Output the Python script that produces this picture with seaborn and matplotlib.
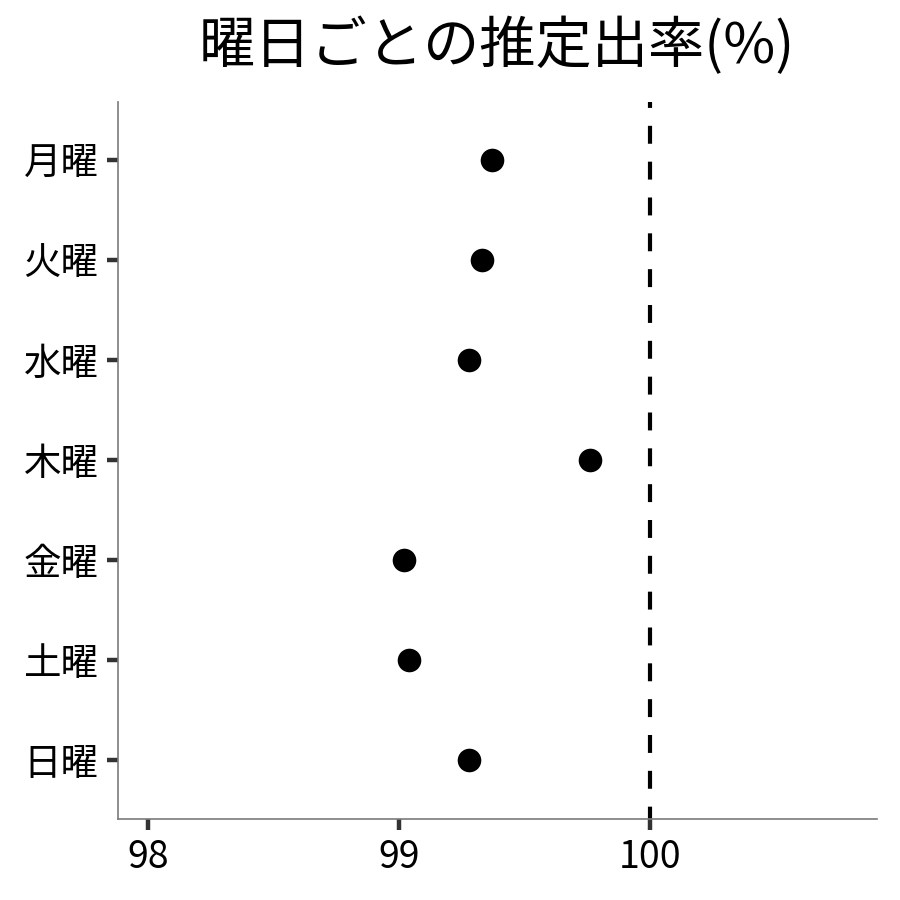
import matplotlib
matplotlib.use("Agg")
import matplotlib.pyplot as plt
import seaborn as sns
import pandas as pd
from matplotlib.lines import Line2D

# data
days = ["月曜", "火曜", "水曜", "木曜", "金曜", "土曜", "日曜"]
rates = [99.37, 99.33, 99.28, 99.76, 99.02, 99.04, 99.28]
x_ticks = [98, 99, 100]
ref_line = 100

df = pd.DataFrame({"day": days, "rate": rates})

sns.set_style("white")
plt.rcParams["font.family"] = ["Noto Sans CJK JP", "DejaVu Sans"]

fig = plt.figure(figsize=(9, 9), dpi=100)
ax = fig.add_axes([0.131, 0.09, 0.843, 0.797])

sns.stripplot(data=df, x="rate", y="day", order=days, jitter=False,
              color="black", size=17, linewidth=0, ax=ax)

# dashed reference line, drawn from the top down
ax.add_line(Line2D([ref_line, ref_line], [1.017, 0], transform=ax.get_xaxis_transform(),
                   color="black", lw=3, dashes=(4.3, 4.3), clip_on=True))

ax.set_xlim(97.88, 100.904)
ax.set_ylim(6.59, -0.58)
ax.set_xticks(x_ticks)
ax.set_xticklabels([str(t) for t in x_ticks])
ax.set_xlabel("")
ax.set_ylabel("")

for s in ["top", "right"]:
    ax.spines[s].set_visible(False)
for s in ["left", "bottom"]:
    ax.spines[s].set_color("#7a7a7a")
    ax.spines[s].set_linewidth(1.2)

ax.tick_params(axis="both", which="major", length=8, width=3.2, color="#333333",
               labelsize=27, labelcolor="black", direction="out", pad=6,
               bottom=True, left=True)

ax.set_title("曜日ごとの推定出率(%)", fontsize=40.5, color="black", pad=28)

fig.savefig("out.png", dpi=100, facecolor="white")
